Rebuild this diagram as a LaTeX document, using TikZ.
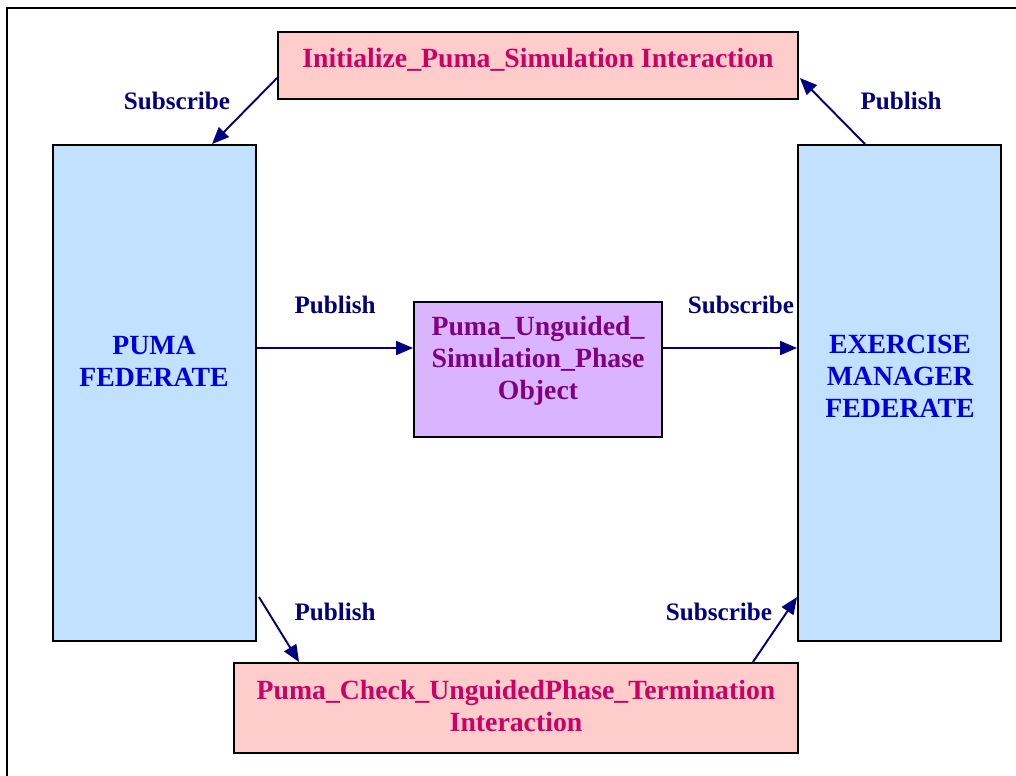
\documentclass[tikz,border=0pt]{standalone}
\usepackage{fontspec}
\setmainfont{Liberation Serif}
\usetikzlibrary{calc,arrows.meta}
\definecolor{pinkfill}{HTML}{FFCCCC}
\definecolor{pinktext}{HTML}{CC0066}
\definecolor{bluefill}{HTML}{C2E0FF}
\definecolor{bluetext}{HTML}{0000DD}
\definecolor{purplefill}{HTML}{DAB4FF}
\definecolor{purpletext}{HTML}{800080}
\definecolor{arrownavy}{HTML}{000080}

\begin{document}
\begin{tikzpicture}[x=0.02cm,y=-0.02cm,
	box/.style={draw=black,line width=1.1pt,inner sep=0pt},
	boxtext/.style={font=\fontsize{15.8}{18.2}\selectfont\bfseries,align=center,inner sep=0pt},
	lab/.style={font=\fontsize{14.3}{18}\selectfont\bfseries,text=arrownavy,inner sep=0pt},
	flow/.style={draw=arrownavy,line width=1.1pt,-{Triangle[length=0.34cm,width=0.28cm]}}]
\useasboundingbox (0,0) rectangle (1016,775);
\clip (0,0) rectangle (1016,775);
\draw[line width=1.1pt] (7,8) rectangle (1040,800);
% boxes
\node[box,fill=pinkfill,minimum width=10.4cm,minimum height=1.34cm] (init) at (538,65.5) {};
\node[box,fill=bluefill,minimum width=4.06cm,minimum height=9.92cm] (puma) at (154.5,393) {};
\node[box,fill=bluefill,minimum width=4.06cm,minimum height=9.92cm] (exm) at (899.5,393) {};
\node[box,fill=purplefill,minimum width=4.96cm,minimum height=2.7cm] (obj) at (538,369.5) {};
\node[box,fill=pinkfill,minimum width=11.28cm,minimum height=1.8cm] (term) at (516,708) {};
% texts
\node[boxtext,text=pinktext] (inittxt) at (538,60) {Initialize\_Puma\_Simulation Interaction};
\node[boxtext,text=bluetext] (pumatxt) at (154,361) {PUMA\\FEDERATE};
\node[boxtext,text=bluetext] (exmtxt) at (900,376) {EXERCISE\\MANAGER\\FEDERATE};
\node[boxtext,text=purpletext] (objtxt) at (538,361) {Puma\_Unguided\_\\Simulation\_Phase\\Object};
\node[boxtext,text=pinktext] (termtxt) at (516,706) {Puma\_Check\_UnguidedPhase\_Termination\\Interaction};
% connectors
\coordinate (subTL) at ($(init.west)+(0,12.5)$);
\coordinate (subTLend) at ($(puma.north)+(57.5,0)$);
\draw[flow] (subTL) -- (subTLend);
\coordinate (pubTR) at ($(exm.north)+(-34.5,0)$);
\coordinate (pubTRend) at ($(init.east)+(1,12.5)$);
\draw[flow] (pubTR) -- (pubTRend);
\coordinate (pubM) at ($(puma.east)+(0,-45)$);
\draw[flow] (pubM) -- (pubM -| obj.west);
\coordinate (subM) at ($(obj.east)+(0,-21.5)$);
\draw[flow] (subM) -- (subM -| exm.west);
\coordinate (pubB) at ($(puma.east)+(2,204)$);
\coordinate (pubBend) at ($(term.north west)+(66,0)$);
\draw[flow] (pubB) -- (pubBend);
\coordinate (subB) at ($(term.north east)+(-46,0)$);
\coordinate (subBend) at ($(exm.west)+(0,204)$);
\draw[flow] (subB) -- (subBend);
% labels
\node[lab] (l1) at (177,101) {Subscribe};
\node[lab] (l2) at (901,101) {Publish};
\node[lab] (l3) at (335,305) {Publish};
\node[lab] (l4) at (741,305) {Subscribe};
\node[lab] (l5) at (335,612) {Publish};
\node[lab] (l6) at (719,612) {Subscribe};
\end{tikzpicture}
\end{document}
